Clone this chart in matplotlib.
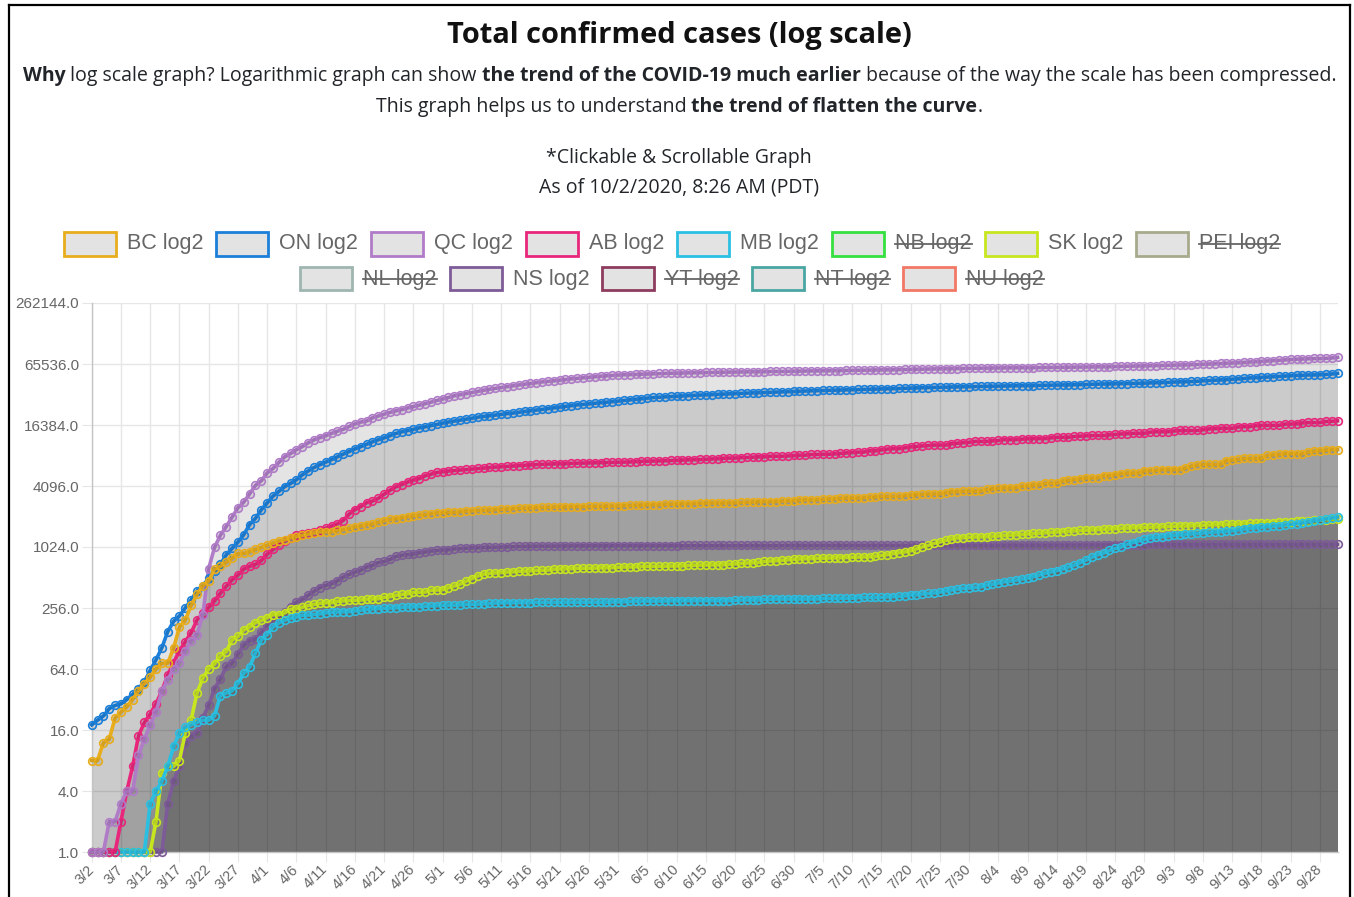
import numpy as np
import pandas as pd
import matplotlib
matplotlib.use("Agg")
import matplotlib.pyplot as plt
from matplotlib.patches import Rectangle
from matplotlib.lines import Line2D

# ----------------------------------------------------------
# Data: cumulative confirmed cases, one value per day 3/2 .. 10/1
# ----------------------------------------------------------
dates = pd.date_range("2020-03-02", "2020-10-01", freq="D")
date_labels = [f"{d.month}/{d.day}" for d in dates]

bc = [
    8, 8, 12, 13, 21, 24, 27, 32, 39, 46, 53, 64, 73, 73, 103, 166, 194, 271, 348, 424,
    472, 617, 659, 725, 792, 884, 884, 920, 970, 1013,
    1066, 1121, 1174, 1203, 1266, 1291, 1336, 1370, 1410, 1445, 1445, 1445, 1490, 1517, 1561,
    1618, 1647, 1699, 1724, 1795, 1853, 1915, 1948, 1989, 2035, 2087, 2112, 2145, 2171, 2224,
    2232, 2255, 2255, 2288, 2315, 2330, 2353, 2360, 2376, 2392, 2407, 2428, 2446, 2467, 2479,
    2479, 2507, 2517, 2530, 2541, 2550, 2558, 2562, 2562, 2562, 2573, 2579, 2584, 2597, 2601, 2601,
    2623, 2632, 2645, 2659, 2669, 2680, 2680, 2709, 2711, 2725, 2745, 2745, 2745, 2775, 2779,
    2783, 2790, 2791, 2791, 2791, 2822, 2835, 2849, 2869, 2878, 2878, 2878, 2904, 2916, 2940,
    2978, 2990, 2990, 2990, 3028, 3053, 3062, 3092, 3115, 3115, 3115, 3149, 3170, 3198, 3236,
    3236, 3236, 3236, 3300, 3328, 3362, 3392, 3419, 3419, 3419, 3500, 3591, 3591, 3641, 3641, 3641,
    3641, 3787, 3834, 3881, 3928, 3928, 3928, 4065, 4111, 4196, 4196, 4358, 4358, 4358, 4594,
    4677, 4745, 4825, 4915, 4915, 4915, 5184, 5184, 5304, 5394, 5496, 5496, 5496, 5790, 5790, 5848,
    5949, 5949, 5949, 5949, 6162, 6429, 6591, 6691, 6691, 6691, 6691, 7279, 7376, 7498, 7663,
    7663, 7663, 7663, 8208, 8304, 8395, 8543, 8543, 8543, 8543, 8841, 9013, 9141, 9220, 9381,
    9381,
]

on = [
    18, 20, 22, 26, 28, 29, 32, 36, 41, 48, 62, 79, 104, 150, 189, 214, 257, 308, 377, 425,
    503, 588, 688, 858, 993, 1144, 1355, 1706, 1966, 2392,
    2793, 3255, 3630, 4038, 4347, 4726, 5276, 5759, 6237, 6648, 7049, 7470, 7953, 8447, 8961,
    9525, 10010, 10578, 11184, 11735, 12245, 12879, 13519, 14032, 14432, 14856, 15381, 15728, 16187, 16608,
    17119, 17553, 17923, 18310, 18722, 19121, 19598, 19944, 20238, 20546, 20907, 21236, 21494, 21922, 22313,
    22653, 23040, 23384, 23774, 24187, 24628, 25040, 25500, 25904, 26191, 26483, 26866, 27210, 27533, 27859, 28263,
    28709, 29047, 29403, 29747, 30202, 30617, 30860, 31090, 31341, 31544, 31726, 31992, 32189, 32370, 32554,
    32744, 32917, 33095, 33301, 33476, 33637, 33853, 34016, 34205, 34316, 34476, 34654, 34911, 35068, 35217,
    35370, 35535, 35656, 35794, 35948, 36060, 36178, 36348, 36464, 36594, 36723, 36839, 36950, 37052, 37163,
    37274, 37440, 37604, 37739, 37942, 38107, 38210, 38405, 38543, 38604, 38799, 38910, 38986, 39075, 39209, 39333,
    39432, 39507, 39593, 39714, 39809, 39897, 39967, 40046, 40162, 40195, 40289, 40459, 40546, 40646, 40745,
    40870, 40972, 41048, 41179, 41402, 41507, 41600, 41687, 41813, 41905, 42038, 42186, 42309, 42421, 42686, 42844,
    42979, 43161, 43536, 43685, 43855, 44068, 44300, 44817, 45068, 45381, 45676, 46077, 46484, 46736, 47274,
    47752, 48087, 48496, 48752, 49032, 49518, 49855, 50209, 50706, 50706, 51133, 51133, 51400, 51710, 52248,
    52980,
]

qc = [
    0, 0, 1, 2, 2, 3, 4, 4, 9, 13, 18, 24, 39, 50, 64, 74, 97, 121, 139, 219,
    628, 1013, 1339, 1629, 2021, 2498, 2840, 3430, 4162, 4611,
    5518, 6101, 6997, 7944, 8580, 9340, 10031, 10912, 11677, 12292, 12846, 13557, 14248, 14860, 15857,
    16798, 17521, 17950, 19319, 20126, 20965, 21838, 22616, 23267, 24107, 24982, 25757, 26594, 27538, 28648,
    29656, 30686, 31865, 32623, 33417, 34327, 35238, 36150, 36986, 37721, 38469, 39225, 39931, 40724, 41420,
    42183, 42920, 43627, 44197, 44775, 45495, 46141, 46838, 47411, 47984, 48598, 49139, 49702, 50232, 50651, 51059,
    51354, 51593, 51884, 52143, 52398, 52624, 52849, 53047, 53185, 53341, 53485, 53666, 53824, 53952, 54054,
    54146, 54263, 54383, 54550, 54674, 54766, 54835, 54937, 55079, 55079, 55390, 55390, 55390, 55593, 55682,
    55784, 55863, 55937, 56079, 56216, 56316, 56407, 56521, 56621, 56730, 56859, 56970, 57001, 57142, 57300,
    57466, 57616, 57796, 57938, 58080, 58243, 58414, 58536, 58708, 58880, 58999, 59073, 59131, 59312, 59458, 59602,
    59699, 59789, 59904, 60002, 60084, 60172, 60247, 60345, 60445, 60525, 60600, 60652, 60719, 60813, 60917,
    61004, 61102, 61170, 61264, 61348, 61461, 61577, 61729, 61917, 62085, 62296, 62486, 62686, 62923, 63071, 63262,
    63443, 63713, 63917, 64056, 64256, 64570, 64865, 65057, 65339, 65896, 66356, 66757, 67080, 67660, 68128,
    68617, 69088, 69670, 70307, 70893, 71331, 72080, 72660, 73150, 73450, 73852, 74288, 74288, 74621, 75221,
    76273,
]

ab = [
    0, 0, 0, 1, 1, 2, 4, 7, 14, 19, 23, 29, 39, 56, 74, 97, 119, 146, 195, 226,
    259, 301, 359, 419, 486, 542, 621, 661, 690, 754,
    871, 968, 1075, 1181, 1250, 1348, 1373, 1423, 1451, 1500, 1569, 1651, 1732, 1870, 2158,
    2397, 2562, 2803, 2908, 3095, 3401, 3720, 4017, 4233, 4480, 4696, 4850, 5165, 5355, 5573,
    5670, 5766, 5836, 5893, 5963, 6017, 6098, 6157, 6253, 6300, 6345, 6407, 6457, 6515, 6587,
    6644, 6683, 6716, 6735, 6768, 6800, 6818, 6860, 6879, 6900, 6926, 6955, 6979, 6992, 7010, 7044,
    7057, 7076, 7138, 7181, 7202, 7236, 7253, 7276, 7316, 7343, 7383, 7433, 7453, 7482, 7530,
    7579, 7625, 7704, 7736, 7736, 7825, 7851, 7888, 7957, 7957, 8067, 8067, 8067, 8108, 8202,
    8259, 8259, 8389, 8389, 8436, 8436, 8519, 8596, 8674, 8759, 8857, 8857, 9114, 9114, 9328,
    9481, 9587, 9587, 9750, 9975, 10086, 10193, 10291, 10398, 10398, 10398, 10716, 10843, 10970, 11063, 11296,
    11296, 11296, 11430, 11530, 11772, 11772, 11772, 11893, 11999, 12053, 12053, 12053, 12246, 12407, 12407,
    12407, 12644, 12713, 12809, 12911, 12911, 12911, 13106, 13237, 13375, 13457, 13576, 13576, 13576, 13938, 14066,
    14066, 14066, 14298, 14461, 14474, 14474, 14474, 14708, 14993, 15092, 15233, 15233, 15233, 15683, 15828,
    15828, 16176, 16274, 16274, 16274, 16274, 16739, 16739, 16881, 17190, 17343, 17343, 17343, 17749, 17843,
    18012,
]

mb = [
    0, 0, 0, 0, 0, 0, 0, 0, 0, 0, 3, 4, 5, 7, 11, 15, 17, 18, 19, 20,
    20, 22, 35, 37, 39, 46, 58, 67, 92, 124,
    140, 166, 182, 194, 203, 208, 217, 218, 221, 224, 229, 233, 234, 235, 236,
    240, 244, 248, 252, 253, 254, 256, 257, 260, 262, 263, 264, 266, 268, 270,
    272, 273, 273, 275, 278, 278, 279, 282, 284, 287, 288, 289, 289, 290, 290,
    290, 291, 291, 291, 291, 291, 292, 292, 292, 292, 292, 292, 292, 293, 294, 294,
    295, 297, 300, 300, 300, 300, 300, 300, 302, 302, 303, 303, 303, 303, 303,
    303, 303, 303, 303, 304, 307, 307, 308, 308, 311, 311, 314, 314, 314, 314,
    314, 314, 314, 314, 318, 318, 318, 320, 320, 320, 324, 325, 325, 325, 325,
    330, 332, 334, 337, 345, 345, 352, 356, 360, 367, 377, 386, 394, 399, 404, 408,
    413, 432, 438, 452, 464, 472, 482, 494, 505, 522, 540, 564, 580, 599, 622,
    650, 677, 716, 760, 810, 858, 890, 946, 990, 1024, 1086, 1131, 1175, 1218, 1260, 1279,
    1298, 1319, 1335, 1350, 1366, 1384, 1396, 1412, 1428, 1440, 1454, 1470, 1486, 1509, 1539,
    1570, 1588, 1605, 1623, 1642, 1665, 1690, 1713, 1741, 1776, 1816, 1860, 1890, 1939, 1982,
    2020,
]

sk = [
    0, 0, 0, 0, 0, 0, 0, 0, 0, 0, 1, 2, 6, 7, 7, 8, 15, 20, 37, 52,
    64, 72, 86, 95, 124, 134, 156, 166, 184, 193,
    206, 220, 220, 229, 249, 253, 260, 271, 278, 285, 289, 289, 298, 301, 304,
    305, 307, 313, 315, 316, 326, 331, 341, 349, 353, 365, 366, 367, 383, 385,
    389, 405, 421, 440, 470, 500, 530, 553, 564, 568, 573, 580, 582, 591, 592,
    599, 601, 603, 606, 620, 622, 627, 627, 632, 632, 634, 634, 639, 641, 641, 646,
    650, 650, 655, 658, 659, 660, 660, 663, 664, 666, 670, 674, 677, 680, 680,
    682, 685, 686, 694, 697, 705, 712, 717, 722, 737, 745, 750, 758, 766, 777,
    782, 785, 788, 790, 793, 796, 800, 803, 806, 810, 812, 815, 820, 830, 845,
    860, 880, 900, 915, 940, 980, 1024, 1060, 1110, 1145, 1190, 1230, 1260, 1270, 1280, 1285,
    1290, 1296, 1305, 1316, 1330, 1343, 1352, 1362, 1377, 1393, 1405, 1415, 1428, 1441, 1455,
    1469, 1480, 1490, 1502, 1514, 1523, 1537, 1548, 1558, 1568, 1578, 1585, 1592, 1599, 1607, 1615,
    1625, 1633, 1640, 1649, 1657, 1664, 1669, 1679, 1691, 1698, 1705, 1712, 1722, 1730, 1738,
    1747, 1755, 1765, 1772, 1782, 1792, 1804, 1817, 1829, 1845, 1857, 1872, 1888, 1902, 1914,
    1931,
]

ns = [
    0, 0, 0, 0, 0, 0, 0, 0, 0, 0, 0, 0, 0, 3, 5, 7, 12, 14, 15, 21,
    28, 41, 51, 68, 73, 90, 110, 122, 127, 147,
    173, 193, 207, 236, 262, 293, 310, 342, 373, 407, 428, 445, 474, 517, 549,
    579, 606, 649, 675, 721, 737, 772, 827, 850, 865, 873, 900, 915, 935, 947,
    959, 963, 985, 991, 998, 1007, 1008, 1018, 1019, 1020, 1026, 1028, 1036, 1040, 1040,
    1043, 1044, 1046, 1048, 1048, 1049, 1050, 1052, 1053, 1054, 1055, 1056, 1056, 1056, 1057, 1057,
    1057, 1058, 1058, 1058, 1058, 1058, 1058, 1058, 1059, 1059, 1060, 1060, 1060, 1060, 1061,
    1061, 1061, 1061, 1061, 1061, 1061, 1061, 1061, 1061, 1061, 1062, 1062, 1063, 1063, 1064,
    1064, 1065, 1065, 1065, 1065, 1065, 1066, 1066, 1066, 1066, 1066, 1066, 1067, 1067, 1067,
    1067, 1067, 1067, 1067, 1067, 1067, 1067, 1067, 1067, 1067, 1067, 1067, 1067, 1067, 1067, 1067,
    1067, 1067, 1067, 1067, 1069, 1070, 1070, 1071, 1071, 1071, 1071, 1071, 1071, 1071, 1071,
    1072, 1072, 1073, 1073, 1073, 1074, 1075, 1077, 1078, 1080, 1081, 1082, 1083, 1083, 1085, 1085,
    1085, 1085, 1085, 1085, 1085, 1085, 1085, 1086, 1086, 1086, 1086, 1086, 1086, 1086, 1086,
    1086, 1086, 1086, 1087, 1087, 1087, 1087, 1087, 1087, 1087, 1087, 1087, 1087, 1087, 1087,
    1087,
]

provinces = ["BC", "ON", "QC", "AB", "MB", "NB", "SK", "PEI", "NL", "NS", "YT", "NT", "NU"]
colors = {
    "BC": "#e8ad1c", "ON": "#1c7fd9", "QC": "#b07cc8", "AB": "#e8277c", "MB": "#2bc0e2",
    "NB": "#35e03f", "SK": "#c8e61e", "PEI": "#a8aa8c", "NL": "#9fb5b0", "NS": "#7d5b98",
    "YT": "#8e3c5e", "NT": "#4aa6a2", "NU": "#f27866",
}
hidden = ["NB", "PEI", "NL", "YT", "NT", "NU"]
series = {"BC": bc, "ON": on, "QC": qc, "AB": ab, "MB": mb, "SK": sk, "NS": ns}

for k, v in series.items():
    if len(v) != len(dates):
        raise SystemExit(f"{k}: {len(v)} values, expected {len(dates)}")

# ----------------------------------------------------------
# Figure (pixel helpers)
# ----------------------------------------------------------
W, H = 1354, 897
fig = plt.figure(figsize=(W / 100, H / 100), dpi=100)
fig.patch.set_facecolor("white")
renderer = fig.canvas.get_renderer()


def fx(px):
    return px / W


def fy(py):
    return 1 - py / H


def text_width(s, size, weight="normal", family="Open Sans"):
    t1 = fig.text(0, 0, "|" + s + "|", fontsize=size, fontweight=weight, family=family)
    t2 = fig.text(0, 0, "||", fontsize=size, fontweight=weight, family=family)
    w = t1.get_window_extent(renderer).width - t2.get_window_extent(renderer).width
    t1.remove()
    t2.remove()
    return w


def rich_line(segments, cx, cy, size, family="Open Sans", color="#212529"):
    widths = [text_width(s, size, w, family) for s, w in segments]
    x0 = cx - sum(widths) / 2
    for (s, w), wd in zip(segments, widths):
        fig.text(fx(x0), fy(cy), s, fontsize=size, fontweight=w, family=family,
                 color=color, ha="left", va="center")
        x0 += wd


def fit_size(segments, target, base=14, family="Open Sans"):
    tot = sum(text_width(s, base, w, family) for s, w in segments)
    return base * target / tot


# header
title_seg = [("Total confirmed cases (log scale)", "bold")]
title_size = fit_size(title_seg, 464, 20)
rich_line(title_seg, 679, 35, title_size, color="#111111")

line2 = [("Why", "bold"),
         (" log scale graph? Logarithmic graph can show ", "normal"),
         ("the trend of the COVID-19 much earlier", "bold"),
         (" because of the way the scale has been compressed.", "normal")]
body_size = fit_size(line2, 1305, 13)
rich_line(line2, 679.5, 76, body_size)
line3 = [("This graph helps us to understand ", "normal"),
         ("the trend of flatten the curve", "bold"),
         (".", "normal")]
rich_line(line3, 679, 107, body_size)
rich_line([("*Clickable & Scrollable Graph", "normal")], 679, 158, body_size)
rich_line([("As of 10/2/2020, 8:26 AM (PDT)", "normal")], 679, 188, body_size)

# legend (two centred rows, hidden datasets struck through)
legend_rows = [["BC", "ON", "QC", "AB", "MB", "NB", "SK", "PEI"],
               ["NL", "NS", "YT", "NT", "NU"]]
row_y = [244, 279]
box_w, box_h, gap, pad = 52, 23, 11, 13
leg_size = 15.5
for row, yc in zip(legend_rows, row_y):
    labels = [f"{p} log2" for p in row]
    tws = [text_width(l, leg_size, family="Liberation Sans") for l in labels]
    total = sum(box_w + gap + tw + pad for tw in tws) - pad
    xc = 672 - total / 2
    for p, l, tw in zip(row, labels, tws):
        fig.patches.append(Rectangle((fx(xc), fy(yc + box_h / 2)), box_w / W, box_h / H,
                                     transform=fig.transFigure, facecolor="#e3e3e3",
                                     edgecolor=colors[p], linewidth=2.0))
        tx = xc + box_w + gap
        fig.text(fx(tx), fy(yc), l, fontsize=leg_size, family="Liberation Sans",
                 color="#666666", ha="left", va="center")
        if p in hidden:
            fig.add_artist(Line2D([fx(tx), fx(tx + tw)], [fy(yc), fy(yc)],
                                  color="#666666", linewidth=1.3))
        xc += box_w + gap + tw + pad

# ----------------------------------------------------------
# Chart
# ----------------------------------------------------------
ax = fig.add_axes([fx(91.7), fy(852), (1337.5 - 91.7) / W, (852 - 303) / H])
x = np.arange(len(dates))
draw_order = ["NS", "SK", "MB", "AB", "QC", "ON", "BC"]

for p in draw_order:
    v = np.maximum(np.array(series[p], dtype=float), 1)
    ax.fill_between(x, 1, v, color=(0, 0, 0, 0.105), linewidth=0, zorder=1)

for i, p in enumerate(draw_order):
    v = np.maximum(np.array(series[p], dtype=float), 1)
    ax.plot(x, v, color=colors[p], linewidth=2.6, marker="o", markersize=5.5,
            markerfacecolor=(0, 0, 0, 0.08), markeredgecolor=colors[p],
            markeredgewidth=1.2, zorder=3 + i, clip_on=False)

ax.set_yscale("log", base=2)
ax.set_ylim(1, 262144)
ax.set_xlim(0, len(dates) - 1)
yt = [4 ** k for k in range(10)]
ax.set_yticks(yt)
ax.set_yticklabels([f"{v:.1f}" for v in yt])
ax.minorticks_off()
ax.set_xticks(x[::5])
ax.set_xticklabels(date_labels[::5], rotation=45, ha="right", va="center",
                   rotation_mode="anchor")

ax.set_axisbelow(True)
ax.grid(True, color="#e6e6e6", linewidth=1)
for s in ["top", "right"]:
    ax.spines[s].set_visible(False)
for s in ["left", "bottom"]:
    ax.spines[s].set_color("#c4c4c4")
    ax.spines[s].set_linewidth(1)
ax.tick_params(axis="both", length=7, color="#e6e6e6", labelcolor="#666666")
ax.tick_params(axis="y", labelsize=11, pad=2)
ax.tick_params(axis="x", labelsize=10.5, pad=4)
for t in ax.get_xticklabels() + ax.get_yticklabels():
    t.set_family("Liberation Sans")

# page frame
for xs, ys in [([9, 9], [897, 5]), ([9, 1350], [5, 5]), ([1350, 1350], [5, 897])]:
    fig.add_artist(Line2D([fx(a) for a in xs], [fy(b) for b in ys], color="black", linewidth=1.6))

fig.savefig("out.png", dpi=100)
